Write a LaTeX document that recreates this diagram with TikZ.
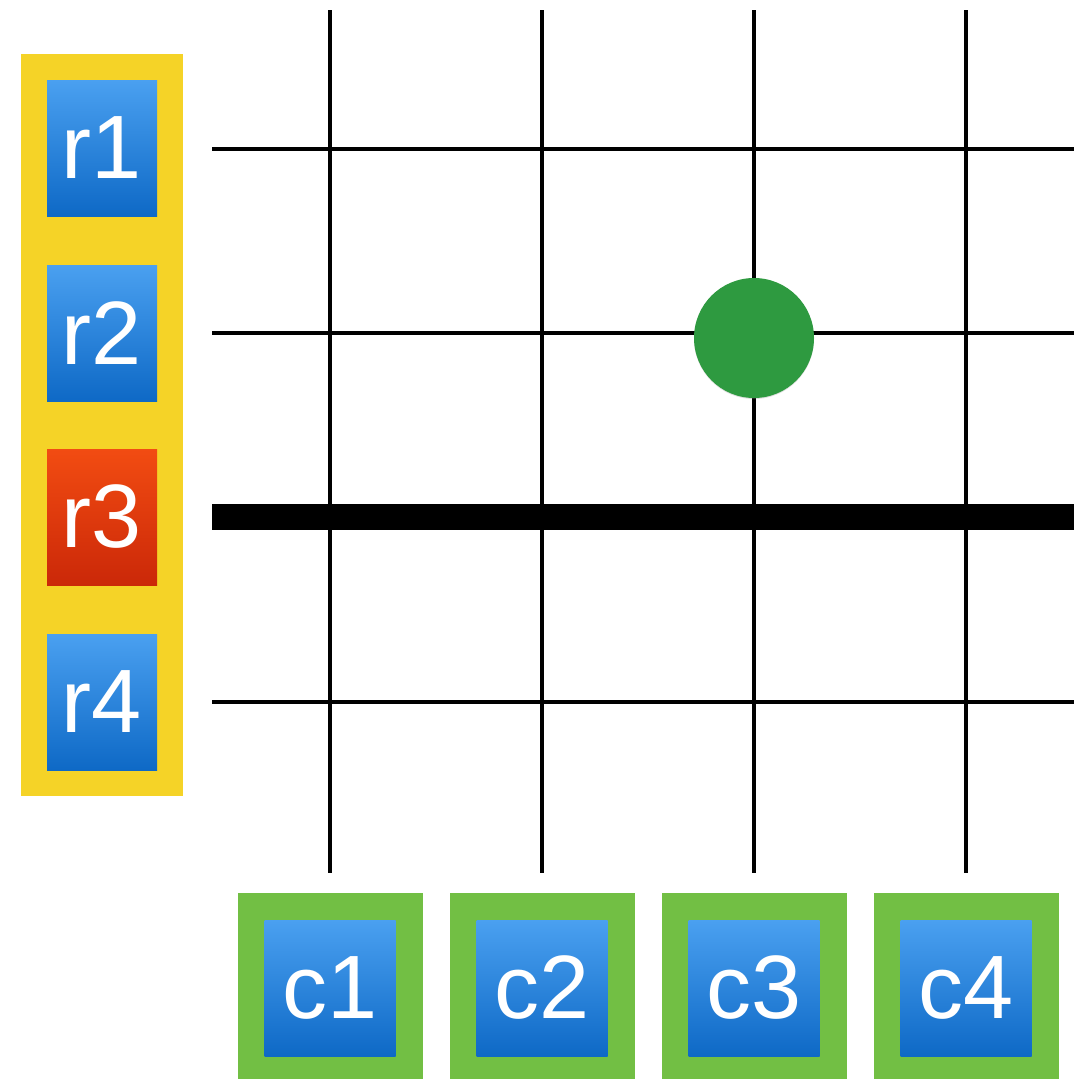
\documentclass[tikz,border=0pt]{standalone}
\usepackage{fontspec}
\setmainfont{Liberation Sans}
\usetikzlibrary{shadows}
\definecolor{yellowbar}{HTML}{F5D327}
\definecolor{greenbox}{HTML}{72BF44}
\definecolor{btop}{HTML}{4AA0F0}
\definecolor{bbot}{HTML}{0E69C6}
\definecolor{rtop}{HTML}{F24C12}
\definecolor{rbot}{HTML}{CB2808}
\definecolor{dotgreen}{HTML}{2E9A40}
\tikzset{
  lbl/.style={font=\fontsize{90}{90}\selectfont, text=white, inner sep=0pt, minimum width=110pt, minimum height=136pt},
  bluebox/.style={lbl, top color=btop, bottom color=bbot},
  redbox/.style={lbl, top color=rtop, bottom color=rbot},
  gridline/.style={line width=4pt, black},
  thickline/.style={line width=26pt, black},
  outerc/.style={fill=greenbox, minimum width=185pt, minimum height=186pt, inner sep=0pt},
}
\begin{document}
\begin{tikzpicture}[x=1pt,y=-1pt]
\useasboundingbox (0,0) rectangle (1074,1079);
% yellow bar
\path[fill=yellowbar] (21,54) rectangle (183,796);
% grid coordinates
\foreach \n/\x in {1/330,2/542,3/754,4/966}{
  \coordinate (vt\n) at (\x,10);
  \coordinate (vb\n) at (\x,873);
}
\foreach \n/\y in {1/149,2/333,3/517,4/702}{
  \coordinate (hl\n) at (212,\y);
  \coordinate (hr\n) at (1074,\y);
}
\foreach \n in {1,2,3,4}{ \draw[gridline] (vt\n) -- (vb\n); }
\foreach \n in {1,2,4}{ \draw[gridline] (hl\n) -- (hr\n); }
\draw[thickline] (hl3) -- (hr3);
% dot
\node[circle, fill=dotgreen, minimum size=120pt, inner sep=0pt, drop shadow={opacity=0.25, shadow xshift=0pt, shadow yshift=-1pt}] (dot) at (754,338) {};
% row boxes
\node[bluebox] (r1) at (102,148) {r1};
\node[bluebox] (r2) at (102,333) {r2};
\node[redbox]  (r3) at (102,517) {r3};
\node[bluebox] (r4) at (102,702) {r4};
% column boxes
\foreach \n/\x in {1/330,2/542,3/754,4/966}{
  \node[outerc] (g\n) at (\x,986) {};
  \node[bluebox, minimum width=131pt, minimum height=136pt] (c\n) at (\x,988) {c\n};
}
\end{tikzpicture}
\end{document}
